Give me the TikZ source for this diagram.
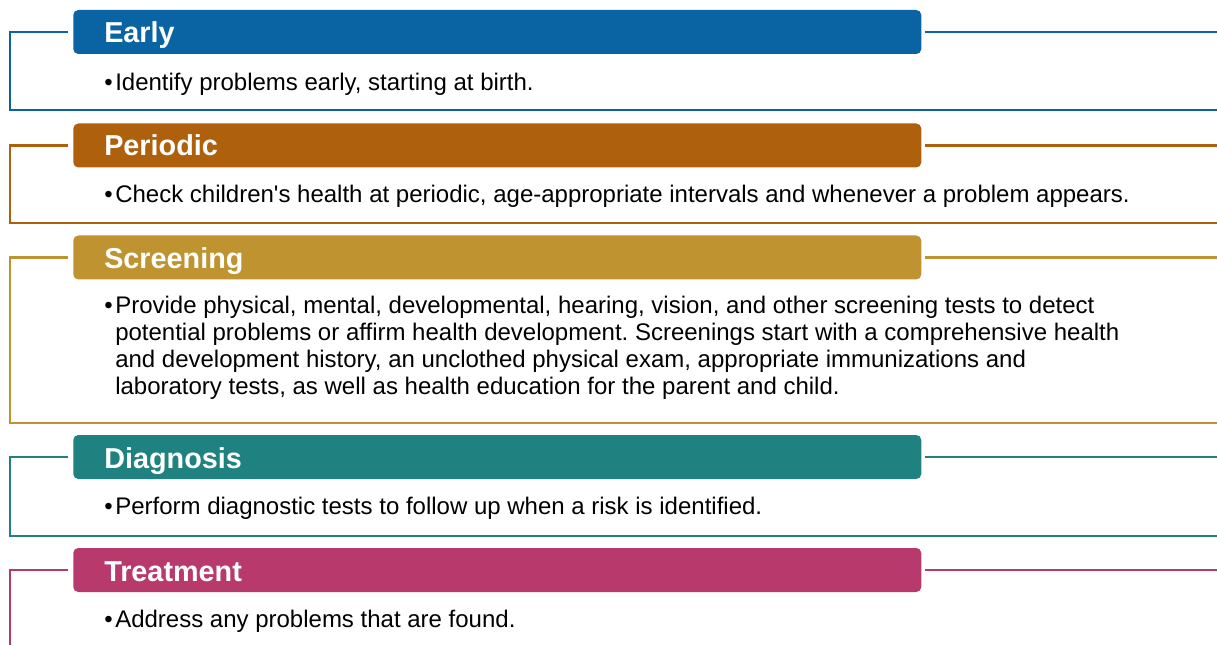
\documentclass[tikz,border=0pt]{standalone}
\usepackage{fontspec}
\setmainfont{Liberation Sans}
\frenchspacing
\definecolor{cEarly}{HTML}{0A64A4}
\definecolor{cPeriodic}{HTML}{AE600C}
\definecolor{cScreening}{HTML}{BF932F}
\definecolor{cDiagnosis}{HTML}{1F8180}
\definecolor{cTreatment}{HTML}{B8396B}
\begin{document}
\begin{tikzpicture}[x=0.75pt,y=-0.75pt,
  hdr/.style={rounded corners=3.75pt, minimum width=636pt, minimum height=33pt,
    inner sep=0pt, anchor=west},
  ttl/.style={anchor=base west, inner sep=0pt, text=white,
    font=\bfseries\fontsize{21.6}{24}\selectfont},
  body/.style={anchor=base west, inner sep=0pt, font=\fontsize{18}{20}\selectfont},
  dot/.style={anchor=base west, inner sep=0pt, font=\fontsize{18}{20}\selectfont},
  rule/.style={line width=1.65pt}]
\useasboundingbox (0,0) rectangle (1217,645);

% ---- Early ----
\node[hdr, fill=cEarly] (early) at (73,32) {};
\node[ttl] (earlyT) at (104,43) {Early};
\node[dot] (earlyDot) at (104,91) {•};
\node[body] (earlyB) at (115,91) {Identify problems early, starting at birth.};
\coordinate (earlyC) at (10,110);
\coordinate (earlyD) at (1217,110);
\coordinate (earlyR) at (1217,32);
\draw[rule, cEarly] ([xshift=-3.75pt]early.west) -| (earlyC) -- (earlyD);
\draw[rule, cEarly] ([xshift=2.25pt]early.east) -- (earlyR);

% ---- Periodic ----
\node[hdr, fill=cPeriodic] (periodic) at (73,145.5) {};
\node[ttl] (periodicT) at (104,156) {Periodic};
\node[dot] (periodicDot) at (104,202.5) {•};
\node[body] (periodicB) at (115,202.5) {Check children\textquotesingle s health at periodic, age-appropriate intervals and whenever a problem appears.};
\coordinate (periodicC) at (10,223);
\coordinate (periodicD) at (1217,223);
\coordinate (periodicR) at (1217,145.5);
\draw[rule, cPeriodic] ([xshift=-3.75pt]periodic.west) -| (periodicC) -- (periodicD);
\draw[rule, cPeriodic] ([xshift=2.25pt]periodic.east) -- (periodicR);

% ---- Screening ----
\node[hdr, fill=cScreening] (screening) at (73,257.5) {};
\node[ttl] (screeningT) at (104,268.5) {Screening};
\node[dot] (screeningDot) at (104,314) {•};
\node[body] (screeningB1) at (115,314) {Provide physical, mental, developmental, hearing, vision, and other screening tests to detect};
\node[body] (screeningB2) at (115,340.7) {potential problems or affirm health development. Screenings start with a comprehensive health};
\node[body] (screeningB3) at (115,367.4) {and development history, an unclothed physical exam, appropriate immunizations and};
\node[body] (screeningB4) at (115,394.1) {laboratory tests, as well as health education for the parent and child.};
\coordinate (screeningC) at (10,423);
\coordinate (screeningD) at (1217,423);
\coordinate (screeningR) at (1217,257.5);
\draw[rule, cScreening] ([xshift=-3.75pt]screening.west) -| (screeningC) -- (screeningD);
\draw[rule, cScreening] ([xshift=2.25pt]screening.east) -- (screeningR);

% ---- Diagnosis ----
\node[hdr, fill=cDiagnosis] (diagnosis) at (73,457) {};
\node[ttl] (diagnosisT) at (104,468) {Diagnosis};
\node[dot] (diagnosisDot) at (104,514.5) {•};
\node[body] (diagnosisB) at (115,514.5) {Perform diagnostic tests to follow up when a risk is identified.};
\coordinate (diagnosisC) at (10,536);
\coordinate (diagnosisD) at (1217,536);
\coordinate (diagnosisR) at (1217,457);
\draw[rule, cDiagnosis] ([xshift=-3.75pt]diagnosis.west) -| (diagnosisC) -- (diagnosisD);
\draw[rule, cDiagnosis] ([xshift=2.25pt]diagnosis.east) -- (diagnosisR);

% ---- Treatment ----
\node[hdr, fill=cTreatment] (treatment) at (73,570) {};
\node[ttl] (treatmentT) at (104,581) {Treatment};
\node[dot] (treatmentDot) at (104,627) {•};
\node[body] (treatmentB) at (115,627) {Address any problems that are found.};
\coordinate (treatmentC) at (10,645);
\coordinate (treatmentR) at (1217,570);
\draw[rule, cTreatment] ([xshift=-3.75pt]treatment.west) -| (treatmentC);
\draw[rule, cTreatment] ([xshift=2.25pt]treatment.east) -- (treatmentR);
\end{tikzpicture}
\end{document}
